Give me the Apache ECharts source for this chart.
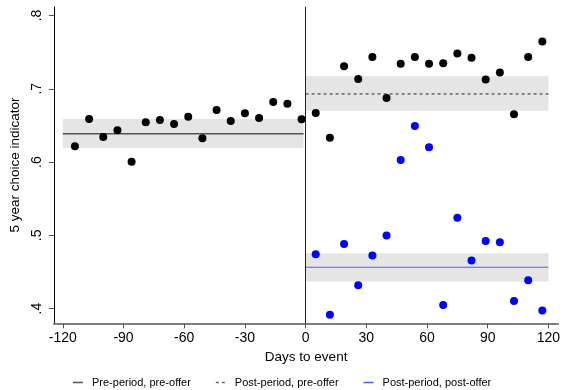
<!DOCTYPE html>
<html><head><meta charset="utf-8">
<script src="https://cdn.jsdelivr.net/npm/echarts@6/dist/echarts.min.js"></script>
<style>html,body{margin:0;padding:0;background:#fff}#c{width:563px;height:390px}</style>
</head><body><div id="c"></div>
<script>
const preDays = [-114,-107,-100,-93,-86,-79,-72,-65,-58,-51,-44,-37,-30,-23,-16,-9,-2];
const preVals = [.6215,.6588,.6342,.6433,.6004,.6543,.6574,.6519,.6620,.6324,.6711,.6560,.6666,.6602,.6820,.6797,.6584];
const postDays = [5,12,19,26,33,40,47,54,61,68,75,82,89,96,103,110,117];
const postPreVals = [.6670,.6332,.7308,.7135,.7435,.6875,.7340,.7435,.7340,.7349,.7481,.7422,.7125,.7221,.6652,.7435,.7645];
const postPostVals = [.4742,.3918,.4883,.4319,.4724,.4998,.6027,.6492,.6201,.4049,.5239,.4656,.4924,.4906,.4104,.4387,.3973];
// group means and confidence bands: [start, end, mean, low, high]
const preMean = [-120, -1, .6387, .6191, .6588];
const postPreMean = [0, 120, .6930, .6701, .7171];
const postPostMean = [0, 120, .4565, .4369, .4756];
const xTicks = [-120,-90,-60,-30,0,30,60,90,120];
const yTicks = [.4,.5,.6,.7,.8];
const legendNames = ['Pre-period, pre-offer','Post-period, pre-offer','Post-period, post-offer'];

const font = 'Liberation Sans, Arial, sans-serif';
function zip(a,b){return a.map((v,i)=>[v,b[i]]);}
function band(m){return [[{xAxis:m[0],yAxis:m[3]},{xAxis:m[1],yAxis:m[4]}]];}

const solidIcon = 'path://M0,0H10V1.5H0Z';
const dashIcon = 'path://M0,0H3V1.5H0Z M6,0H9V1.5H6Z M9.99,0H10V1.5H9.99Z';

const chart = echarts.init(document.getElementById('c'), null, {renderer:'canvas'});
chart.setOption({
  animation:false,
  textStyle:{fontFamily:font},
  grid:{left:49.3,right:3,top:6.7,bottom:66.7,containLabel:false},
  xAxis:{type:'value',min:-124.4,max:124.9,
    name:'Days to event',nameLocation:'middle',nameGap:24,
    nameTextStyle:{fontSize:13.5,color:'#000',fontFamily:font},
    axisLine:{onZero:false,lineStyle:{color:'#555',width:1.5}},
    axisTick:{show:true,length:5,customValues:xTicks,lineStyle:{color:'#555'}},
    axisLabel:{customValues:xTicks,fontSize:14,color:'#000',margin:8,fontFamily:font},
    splitLine:{show:false}},
  yAxis:{type:'value',min:0.38,max:0.812,
    name:'5 year choice indicator',nameLocation:'middle',nameGap:31,nameRotate:90,
    nameTextStyle:{fontSize:13.5,color:'#000',fontFamily:font},
    axisLine:{onZero:false,lineStyle:{color:'#000',width:1}},
    axisTick:{show:true,length:5,customValues:yTicks,lineStyle:{color:'#555'}},
    axisLabel:{customValues:yTicks,rotate:90,fontSize:14,color:'#000',margin:10,fontFamily:font,
      formatter:v=>String(Math.round(v*10)/10).replace(/^0/,'')},
    splitLine:{show:false}},
  legend:{data:[
      {name:legendNames[0],icon:solidIcon},
      {name:legendNames[1],icon:dashIcon},
      {name:legendNames[2],icon:solidIcon}],
    left:73,top:377,padding:0,itemWidth:10,itemHeight:1.5,itemGap:25,
    textStyle:{fontSize:11,color:'#000',fontFamily:font,padding:[0,0,0,4]}},
  series:[
    {name:legendNames[0],type:'line',symbol:'none',z:3,
     data:[[preMean[0],preMean[2]],[preMean[1],preMean[2]]],
     lineStyle:{color:'#555',width:1.5},itemStyle:{color:'#555'},
     markArea:{silent:true,itemStyle:{color:'#e5e5e5'},data:band(preMean)},
     markLine:{silent:true,symbol:'none',label:{show:false},lineStyle:{color:'#222',width:1,type:'solid'},data:[{xAxis:0}]}},
    {name:legendNames[1],type:'line',symbol:'none',z:3,
     data:[[postPreMean[0],postPreMean[2]],[postPreMean[1],postPreMean[2]]],
     lineStyle:{color:'#666',width:1.5,type:[3,3]},itemStyle:{color:'#666'},
     markArea:{silent:true,itemStyle:{color:'#e5e5e5'},data:band(postPreMean)}},
    {name:legendNames[2],type:'line',symbol:'none',z:3,
     data:[[postPostMean[0],postPostMean[2]],[postPostMean[1],postPostMean[2]]],
     lineStyle:{color:'#4f5df5',width:1.2},itemStyle:{color:'#4f5df5'},
     markArea:{silent:true,itemStyle:{color:'#e5e5e5'},data:band(postPostMean)}},
    {type:'scatter',symbolSize:8,z:5,itemStyle:{color:'#000',opacity:1},data:zip(preDays,preVals)},
    {type:'scatter',symbolSize:8,z:5,itemStyle:{color:'#000',opacity:1},data:zip(postDays,postPreVals)},
    {type:'scatter',symbolSize:8,z:5,itemStyle:{color:'#0000ff',opacity:1},data:zip(postDays,postPostVals)}
  ]
});
</script></body></html>
